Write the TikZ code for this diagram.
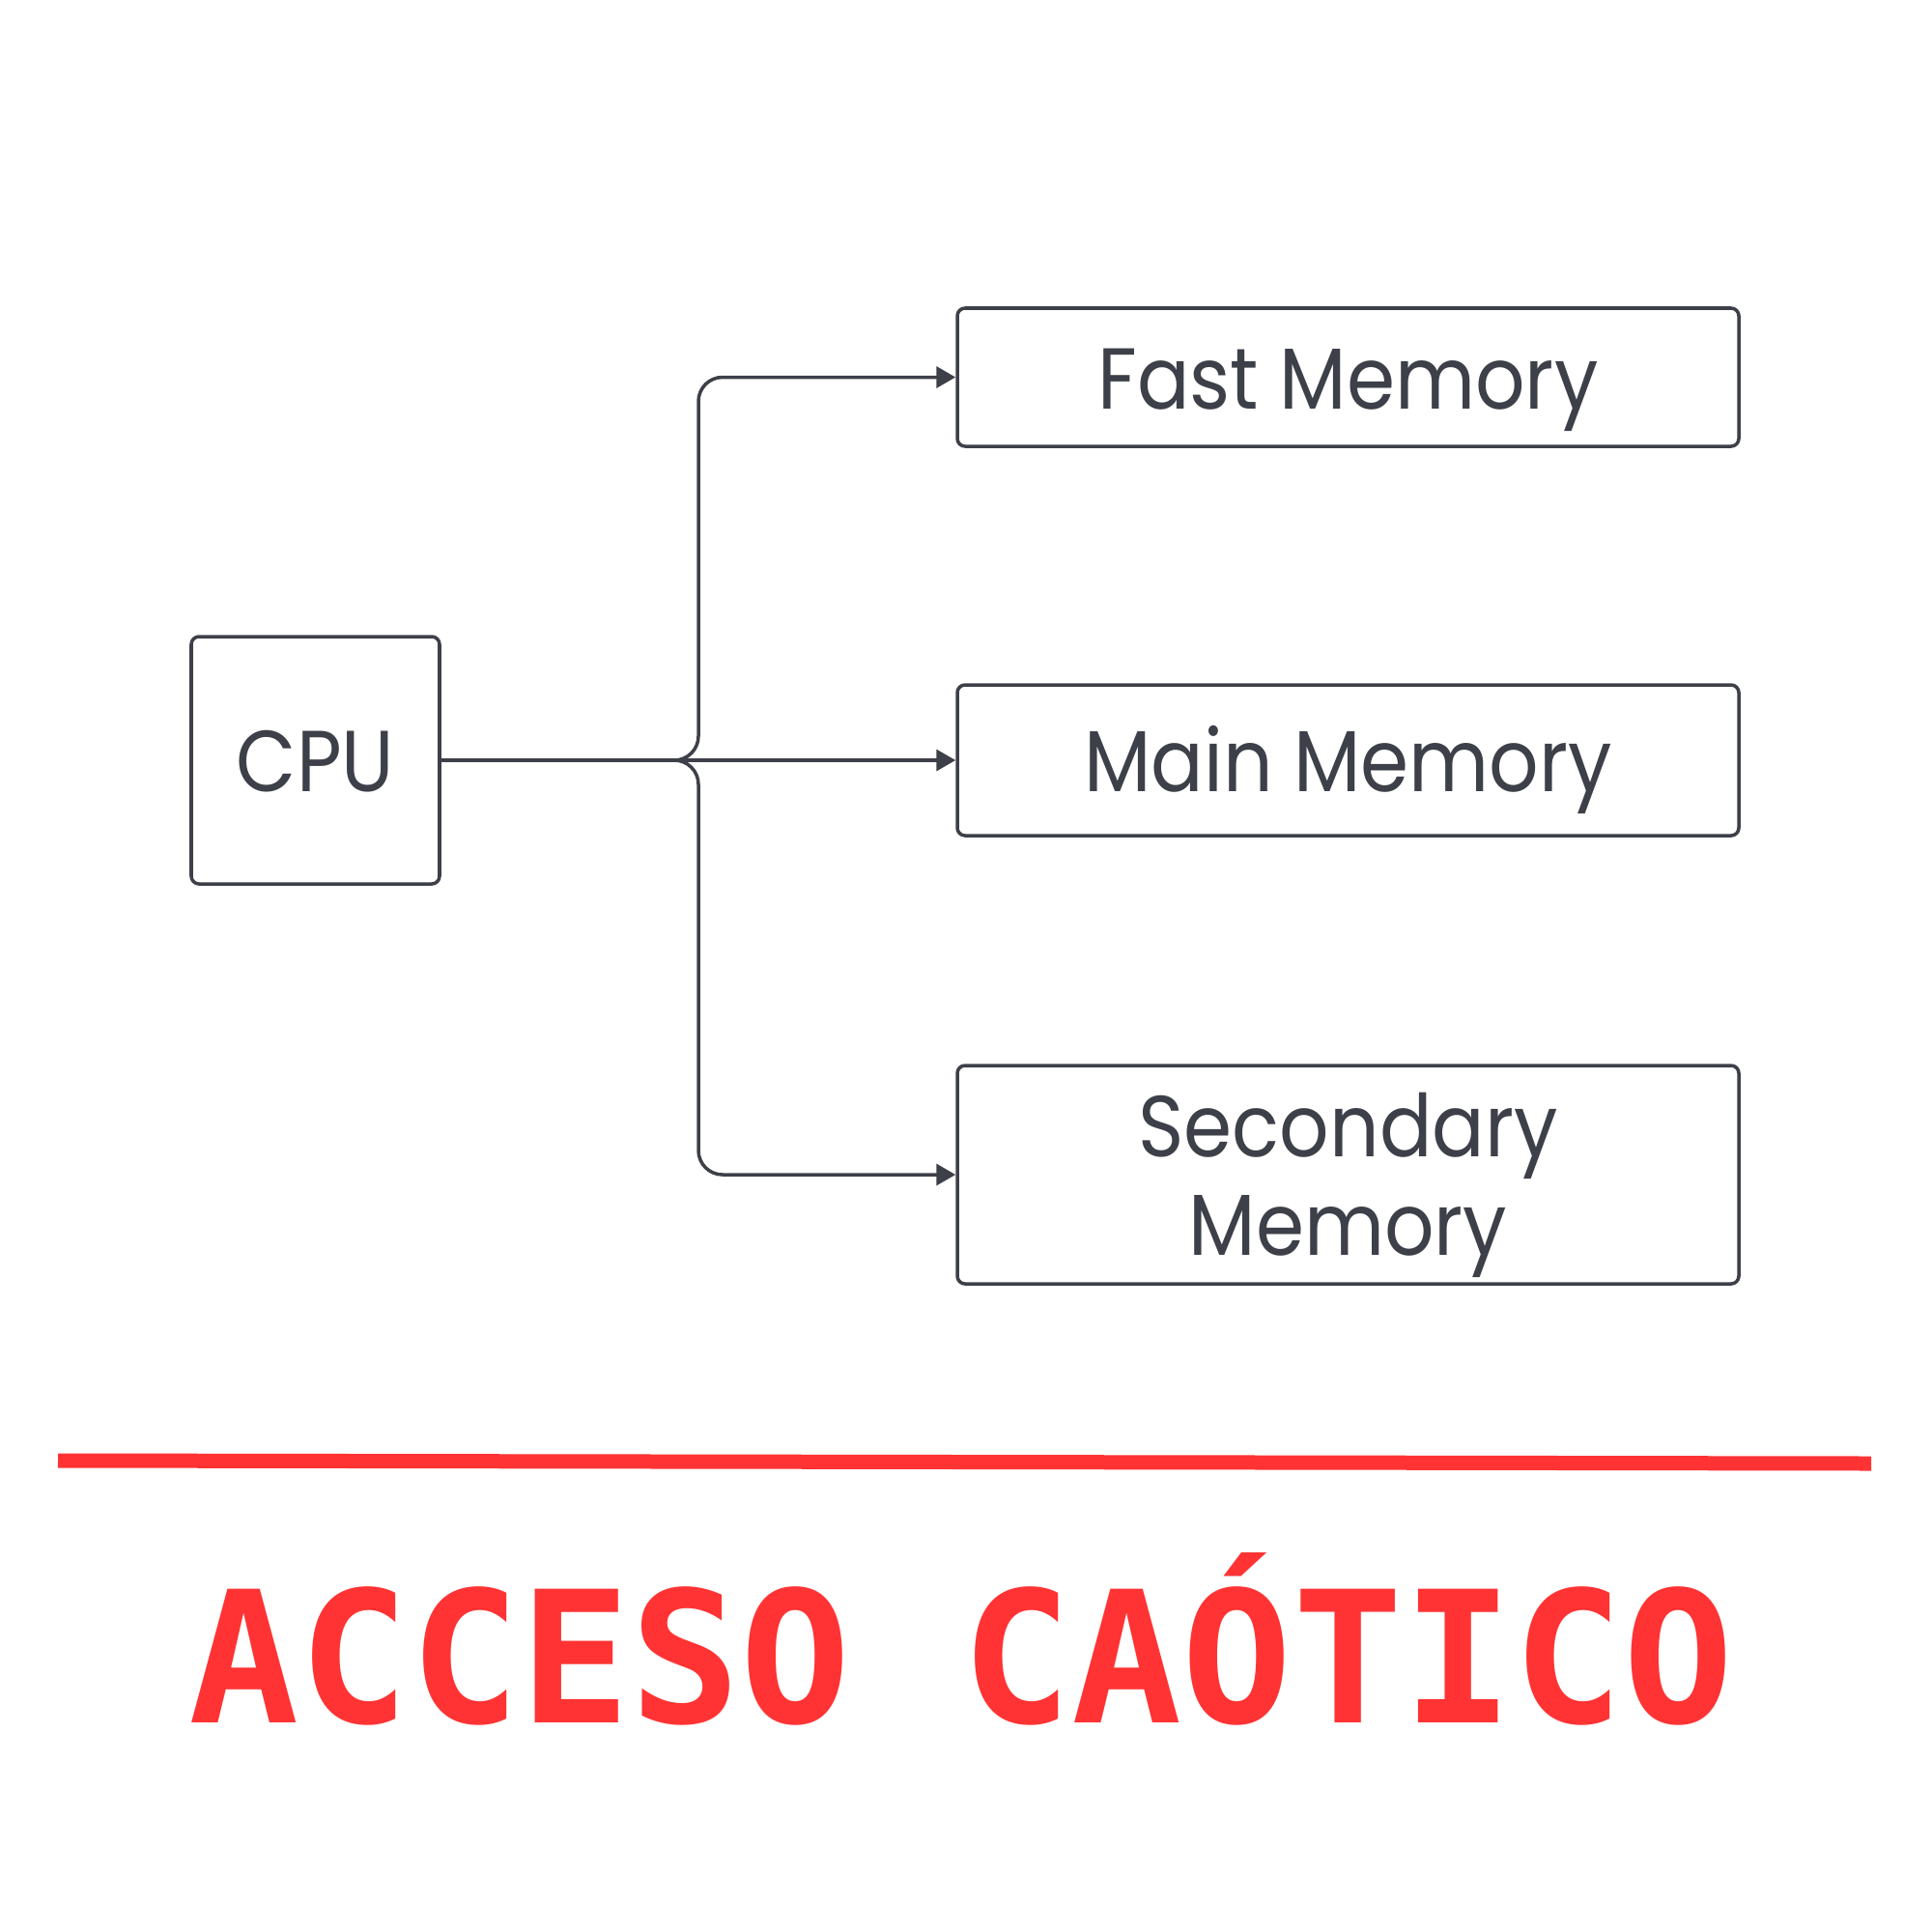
\documentclass[tikz,border=0pt]{standalone}
\usepackage{fontspec}
\setmainfont{Poppins}[FakeStretch=0.9]
\newfontfamily\titlefont{DejaVu Sans Mono}
\usetikzlibrary{arrows.meta,positioning}
\definecolor{linegray}{HTML}{3D4048}
\definecolor{titlered}{HTML}{FF3333}

\begin{document}
\begin{tikzpicture}[
  font=\fontsize{25.5}{29}\selectfont,
  box/.style={rectangle, draw=linegray, line width=1pt, rounded corners=0.08cm,
              inner sep=0pt, text=linegray, align=center,
              text height=0.65cm, text depth=0cm},
  arr/.style={-{Triangle[length=0.2cm, width=0.22cm]}, draw=linegray,
              line width=1pt, rounded corners=0.25cm}
]
  \useasboundingbox (0,0) rectangle (20,-20);
  \node[box, minimum width=2.57cm, minimum height=2.56cm] (cpu) at (3.265,-7.87) {CPU};
  \node[box, minimum width=8.09cm, minimum height=1.43cm] (fast) at (13.955,-3.905) {Fast Memory};
  \node[box, minimum width=8.09cm, minimum height=1.56cm] (main) at (13.955,-7.87) {Main Memory};
  \node[box, minimum width=8.09cm, minimum height=2.26cm, text height=1.67cm] (sec) at (13.955,-12.16) {Secondary\\ Memory};
  \coordinate (bus) at (7.23,-7.87);
  \draw[arr] (cpu.east) -- (bus) |- (fast.west);
  \draw[arr] (cpu.east) -- (main.west);
  \draw[arr] (cpu.east) -- (bus) |- (sec.west);
  % red rule and title
  \draw[titlered, line width=0.15cm] (0.60,-15.12) -- (19.37,-15.15);
  \node[anchor=base, text=titlered, font=\titlefont\bfseries\fontsize{54}{60}\selectfont] (title) at (9.955,-17.83) {ACCESO CAÓTICO};
\end{tikzpicture}
\end{document}
